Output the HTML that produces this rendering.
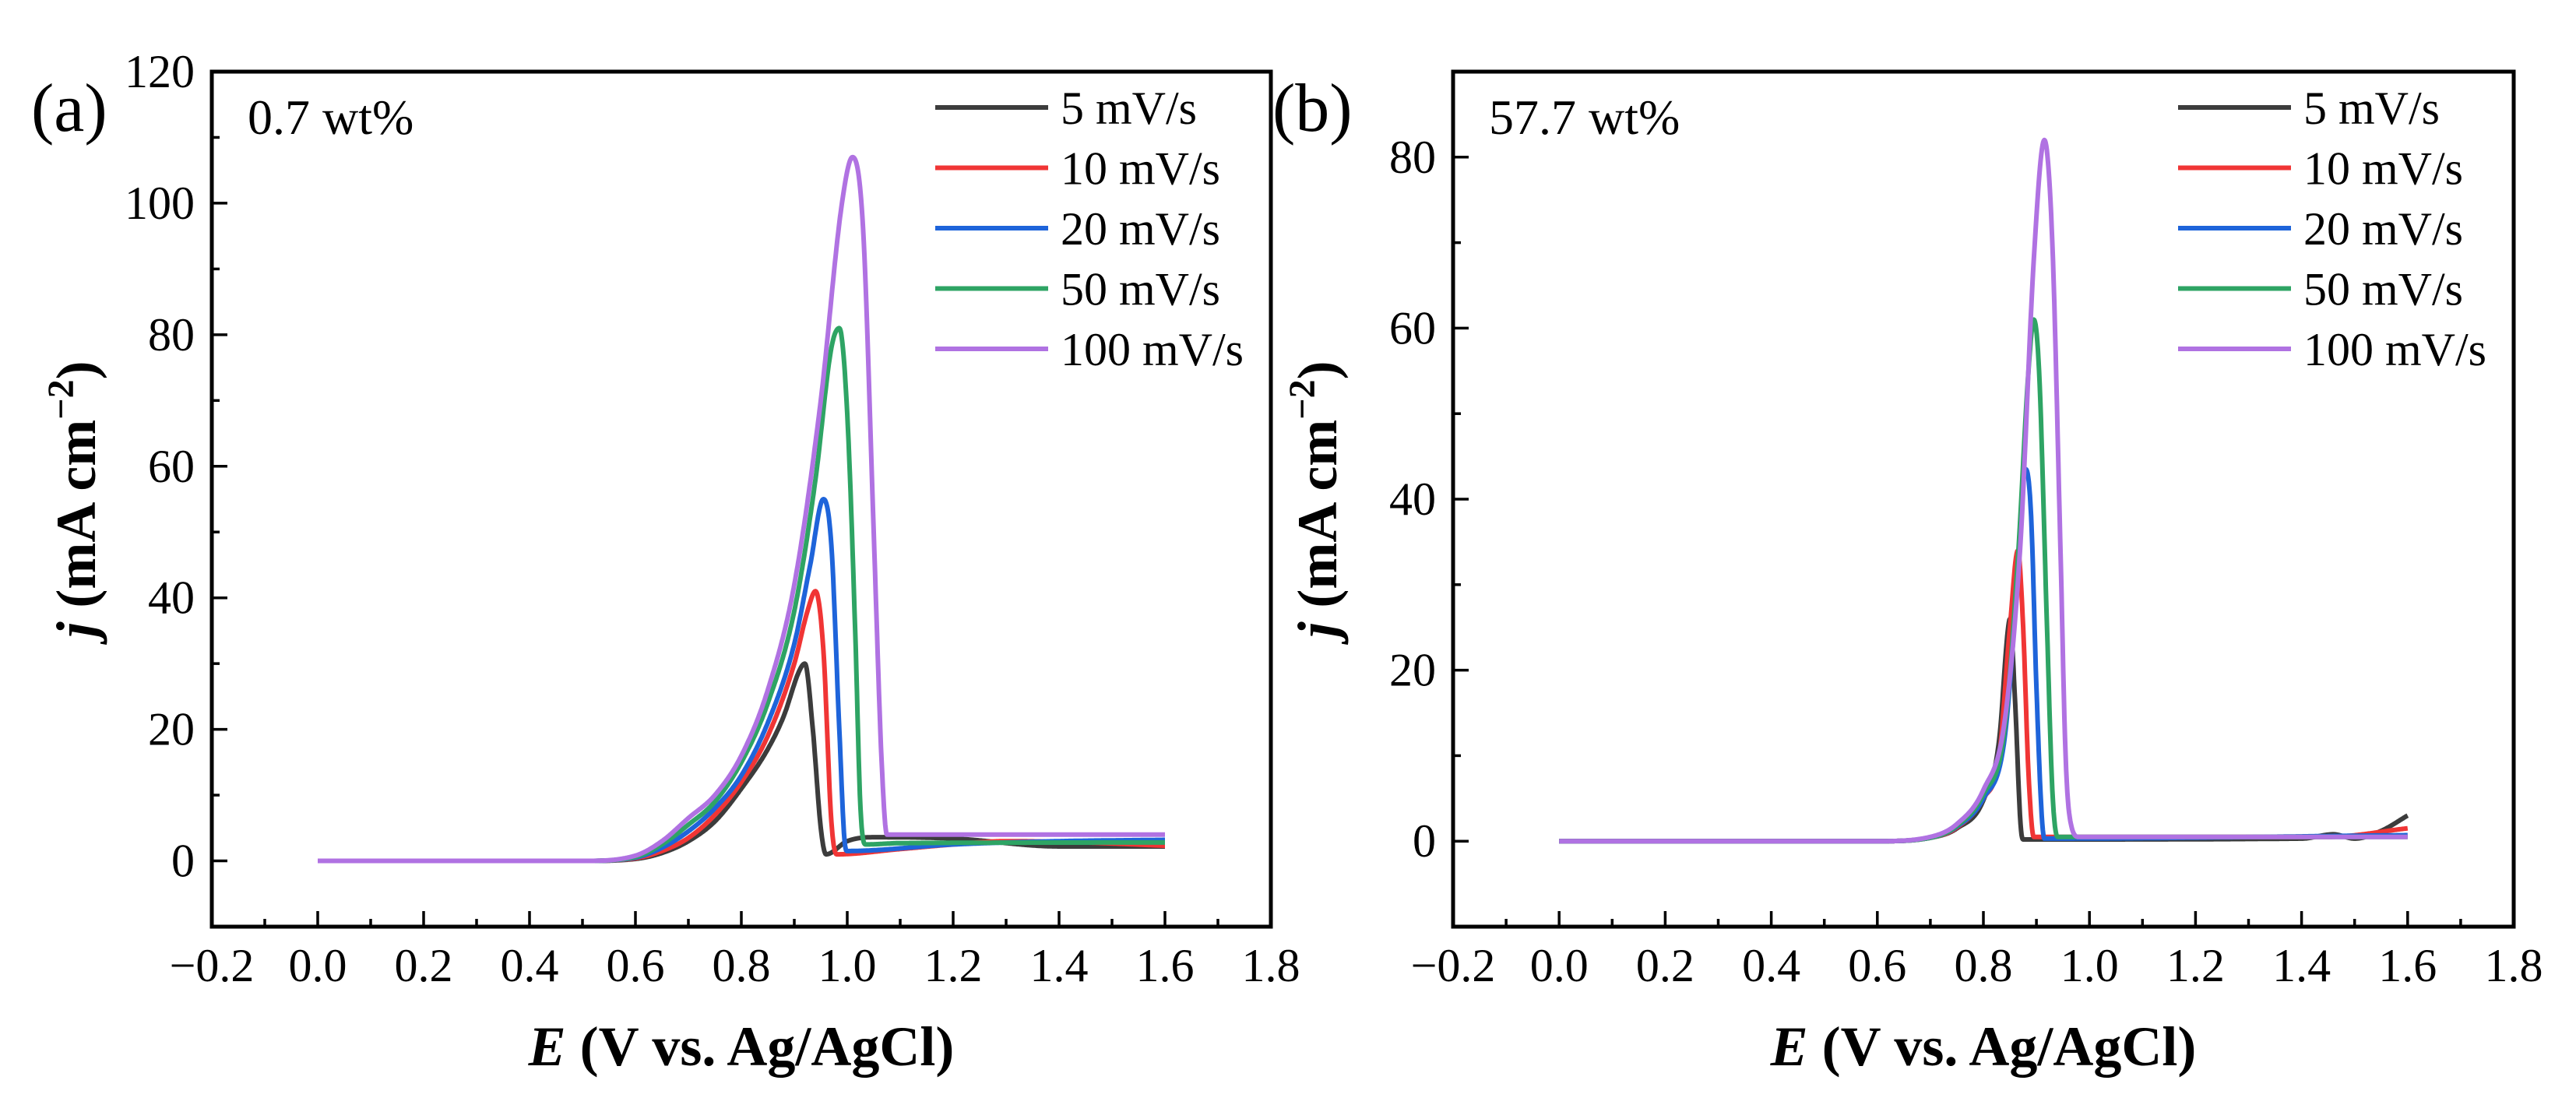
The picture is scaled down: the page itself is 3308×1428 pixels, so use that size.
<!DOCTYPE html>
<html><head><meta charset="utf-8"><style>
body{margin:0;background:#fff}
svg text{font-family:"Liberation Serif",serif;fill:#000}
</style></head><body>
<svg id="fig" width="3308" height="1423" viewBox="0 0 3308 1423" xmlns="http://www.w3.org/2000/svg"></svg>
<script>
const seriesNames = ["5 mV/s","10 mV/s","20 mV/s","50 mV/s","100 mV/s"];
const seriesColors = ["#3c3c3c","#f03535","#1e64da","#2ea464","#b072e2"];
const xTicks = [-0.2,0.0,0.2,0.4,0.6,0.8,1.0,1.2,1.4,1.6,1.8];
const xTickLabels = ["\u22120.2","0.0","0.2","0.4","0.6","0.8","1.0","1.2","1.4","1.6","1.8"];
const yTicksA = [0,20,40,60,80,100,120];
const yTicksB = [0,20,40,60,80];
// Panel (a) 0.7 wt%  [E, j]
const a5 = [[0,0],[0.5,0],[0.6,0.3],[0.65,1.2],[0.7,3],[0.75,6],[0.8,11],[0.85,17],[0.88,22],[0.91,29],[0.92,30],[0.935,20],[0.95,5],[0.96,1],[1.0,3],[1.05,3.6],[1.2,3.4],[1.4,2.2],[1.6,2.2]];
const a10 = [[0,0],[0.5,0],[0.6,0.4],[0.65,1.5],[0.7,3.5],[0.75,7],[0.8,12],[0.85,19],[0.9,30],[0.925,38],[0.94,41],[0.955,32],[0.97,6],[0.98,1],[1.1,1.8],[1.2,2.5],[1.3,3],[1.45,2.8],[1.6,2.3]];
const a20 = [[0,0],[0.5,0],[0.6,0.5],[0.65,2],[0.7,4.5],[0.75,8],[0.8,13],[0.85,21],[0.9,33],[0.93,45],[0.955,55],[0.97,48],[0.985,20],[0.995,3],[1.0,1.5],[1.2,2.5],[1.4,3],[1.6,3.2]];
const a50 = [[0,0],[0.5,0],[0.6,0.6],[0.65,2.5],[0.7,5.5],[0.75,9],[0.8,15],[0.85,24],[0.9,38],[0.94,58],[0.97,78],[0.985,81],[1.0,68],[1.015,35],[1.025,8],[1.035,2.5],[1.1,2.7],[1.6,2.8]];
const a100 = [[0,0],[0.5,0],[0.6,0.8],[0.65,3],[0.7,6.5],[0.75,10],[0.8,16],[0.85,26],[0.9,42],[0.95,70],[0.99,100],[1.01,107],[1.03,96],[1.05,50],[1.065,15],[1.075,4],[1.1,4],[1.6,4]];
// Panel (b) 57.7 wt%
const b5 = [[0,0],[0.6,0],[0.7,0.4],[0.75,1.5],[0.8,4.8],[0.83,12],[0.845,24],[0.85,26],[0.86,16],[0.87,2],[0.875,0.2],[1.4,0.3],[1.46,0.8],[1.5,0.3],[1.55,1.2],[1.6,3]];
const b10 = [[0,0],[0.6,0],[0.7,0.4],[0.75,1.6],[0.8,5],[0.83,10],[0.85,25],[0.865,34],[0.875,25],[0.885,8],[0.895,0.5],[1.45,0.5],[1.6,1.5]];
const b20 = [[0,0],[0.6,0],[0.7,0.4],[0.75,1.7],[0.8,5],[0.84,12],[0.86,27],[0.875,42],[0.88,43.5],[0.89,38],[0.9,18],[0.91,3],[0.915,0.3],[1.6,0.7]];
const b50 = [[0,0],[0.6,0],[0.7,0.4],[0.75,1.8],[0.8,5.5],[0.84,13],[0.865,33],[0.885,55],[0.895,61],[0.905,55],[0.92,25],[0.93,6],[0.94,0.5],[1.6,0.5]];
const b100 = [[0,0],[0.6,0],[0.7,0.5],[0.75,2],[0.8,6],[0.84,14],[0.87,35],[0.895,68],[0.915,82],[0.93,70],[0.945,35],[0.955,10],[0.965,2],[0.98,0.5],[1.6,0.5]];

const NS="http://www.w3.org/2000/svg";
const svg=document.getElementById('fig');
function mk(tag,attrs,parent){const e=document.createElementNS(NS,tag);for(const k in attrs)e.setAttribute(k,attrs[k]);(parent||svg).appendChild(e);return e;}

function monotone(pts){
  const n=pts.length,xs=pts.map(p=>p[0]),ys=pts.map(p=>p[1]);
  const d=[],m=new Array(n);
  for(let i=0;i<n-1;i++)d.push((ys[i+1]-ys[i])/(xs[i+1]-xs[i]));
  m[0]=d[0];m[n-1]=d[n-2];
  for(let i=1;i<n-1;i++){m[i]=(d[i-1]*d[i]<=0)?0:(d[i-1]+d[i])/2;}
  for(let i=0;i<n-1;i++){
    if(d[i]===0){m[i]=0;m[i+1]=0;continue;}
    const a=m[i]/d[i],b=m[i+1]/d[i],s=a*a+b*b;
    if(s>9){const t=3/Math.sqrt(s);m[i]=t*a*d[i];m[i+1]=t*b*d[i];}
  }
  const out=[];
  for(let i=0;i<n-1;i++){
    const h=xs[i+1]-xs[i];const steps=Math.max(4,Math.ceil(h*800));
    for(let k=0;k<steps;k++){
      const t=k/steps,t2=t*t,t3=t2*t;
      const y=(2*t3-3*t2+1)*ys[i]+(t3-2*t2+t)*h*m[i]+(-2*t3+3*t2)*ys[i+1]+(t3-t2)*h*m[i+1];
      out.push([xs[i]+t*h,y]);
    }
  }
  out.push(pts[n-1]);return out;
}

function panel(cfg){
  const g=mk('g',{});
  
  
  const X=v=>cfg.L+(v-(-0.2))/2.0*(cfg.R-cfg.L);
  const Y=v=>cfg.B-(v-cfg.ymin)/(cfg.ymax-cfg.ymin)*(cfg.B-cfg.T);
  const sg=mk('g',{},g);
  
  
  cfg.series.forEach((s,i)=>{
    const pts=monotone(s);
    const p=mk('path',{d:pts.map((q,k)=>(k?'L':'M')+X(q[0]).toFixed(1)+' '+Y(q[1]).toFixed(1)).join(''),fill:'none',stroke:seriesColors[i],'stroke-width':6,'stroke-linejoin':'round'},sg);
    
    
  });
  const fr=mk('rect',{x:cfg.L,y:cfg.T,width:cfg.R-cfg.L,height:cfg.B-cfg.T,fill:'none',stroke:'#000','stroke-width':5},g);
  
  
  xTicks.forEach((v,i)=>{
    const x=X(v);
    mk('line',{x1:x,x2:x,y1:cfg.B,y2:cfg.B-20,stroke:'#000','stroke-width':3.5},g);
    if(i<xTicks.length-1){const xm=X(v+0.1);mk('line',{x1:xm,x2:xm,y1:cfg.B,y2:cfg.B-10,stroke:'#000','stroke-width':3.5},g);}
    const t=mk('text',{x:x,y:cfg.B+70,'font-size':60,'text-anchor':'middle'},g);
    t.textContent=xTickLabels[i];
    
    
  });
  for(let v=cfg.ymin;v<=cfg.ymax;v+=10){
    const y=Y(v);
    const major=cfg.yTicks.indexOf(v)>=0;
    mk('line',{x1:cfg.L,x2:cfg.L+(major?20:10),y1:y,y2:y,stroke:'#000','stroke-width':3.5},g);
    if(major){
      const t=mk('text',{x:cfg.L-22,y:y+20,'font-size':60,'text-anchor':'end'},g);
      t.textContent=String(v);
      
      
    }
  }
  const xt=mk('text',{x:(cfg.L+cfg.R)/2,y:1368,'font-size':72,'font-weight':'bold','text-anchor':'middle'},g);
  xt.innerHTML='<tspan font-style="italic">E</tspan> (V vs. Ag/AgCl)';
  
  
  const yt=mk('text',{x:0,y:0,'font-size':72,'font-weight':'bold','text-anchor':'middle',transform:`translate(${cfg.L-150},${(cfg.T+cfg.B)/2}) rotate(-90)`},g);
  yt.innerHTML='<tspan font-style="italic">j</tspan> (mA cm<tspan font-size="48" dy="-28">\u22122</tspan><tspan dy="28">)</tspan>';
  
  
  const pl=mk('text',{x:cfg.L-232,y:168,'font-size':88},g);
  pl.textContent=cfg.label;
  
  
  const an=mk('text',{x:cfg.L+46,y:172,'font-size':64},g);
  an.textContent=cfg.annot;
  
  
  const lg=mk('g',{},g);
  
  
  seriesNames.forEach((n,i)=>{
    const y=138+i*77.5;
    const e=mk('g',{},lg);
    
    
    mk('line',{x1:cfg.R-431,x2:cfg.R-286,y1:y,y2:y,stroke:seriesColors[i],'stroke-width':6},e);
    const t=mk('text',{x:cfg.R-270,y:y+21,'font-size':60},e);
    t.textContent=n;
  });
}
panel({name:'panel-a',L:272,R:1632,T:92,B:1190,ymin:-10,ymax:120,yTicks:yTicksA,series:[a5,a10,a20,a50,a100],label:'(a)',annot:'0.7 wt%'});
panel({name:'panel-b',L:1866,R:3228,T:92,B:1190,ymin:-10,ymax:90,yTicks:yTicksB,series:[b5,b10,b20,b50,b100],label:'(b)',annot:'57.7 wt%'});
</script>
</body></html>
